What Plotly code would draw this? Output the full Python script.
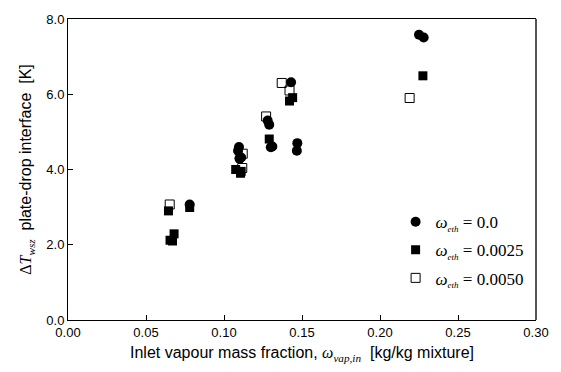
import plotly.graph_objects as go

# omega_eth = 0.0 (filled circles)
x_c0 = [0.225, 0.228, 0.143, 0.128, 0.129, 0.131, 0.147, 0.1467, 0.1096, 0.109, 0.110, 0.110, 0.111, 0.130, 0.078]
y_c0 = [7.58, 7.51, 6.32, 5.30, 5.19, 4.61, 4.70, 4.50, 4.60, 4.50, 4.29, 4.30, 4.32, 4.59, 3.07]

# omega_eth = 0.0025 (filled squares)
x_c1 = [0.2275, 0.144, 0.142, 0.129, 0.1075, 0.1106, 0.111, 0.0644, 0.078, 0.068, 0.0654, 0.067]
y_c1 = [6.49, 5.91, 5.82, 4.81, 4.00, 3.90, 3.95, 2.90, 2.99, 2.29, 2.12, 2.10]

# omega_eth = 0.0050 (open squares)
x_c2 = [0.219, 0.137, 0.142, 0.127, 0.112, 0.1117, 0.0652]
y_c2 = [5.90, 6.30, 6.10, 5.41, 4.42, 4.04, 3.07]

x_ticks = [0.0, 0.05, 0.10, 0.15, 0.20, 0.25, 0.30]
y_ticks = [0.0, 2.0, 4.0, 6.0, 8.0]

SERIF = "Liberation Serif, Times New Roman, serif"
SANS = "Liberation Sans, Arial, sans-serif"

def lab(v):
    return ("<span style='font-family:Liberation Serif'><i>ω</i><sub><i style='font-size:9px'>eth</i></sub> = "
            + v + "</span>")

fig = go.Figure()
fig.add_trace(go.Scatter(x=x_c0, y=y_c0, mode="markers", name=lab("0.0"), legendgroup="a",
                         marker=dict(symbol="circle", size=10, color="black")))
fig.add_trace(go.Scatter(x=x_c1, y=y_c1, mode="markers", name=lab("0.0025"), legendgroup="b",
                         marker=dict(symbol="square", size=9, color="black")))
fig.add_trace(go.Scatter(x=x_c2, y=y_c2, mode="markers", name=lab("0.0050"), legendgroup="c",
                         marker=dict(symbol="square-open", size=9, color="black",
                                     line=dict(width=1))))

fig.update_layout(
    width=561, height=372,
    margin=dict(l=68, r=14, t=12, b=52),
    paper_bgcolor="white", plot_bgcolor="white",
    font=dict(family=SANS, size=13, color="black"),
    showlegend=True,
    legend=dict(x=0.70, y=0.385, xanchor="left", yanchor="top",
                font=dict(family=SERIF, size=17, color="black"),
                bgcolor="rgba(0,0,0,0)", tracegroupgap=3, traceorder="grouped"),
    xaxis=dict(range=[0, 0.30], tickvals=x_ticks, tickformat=".2f",
               ticks="inside", ticklen=5, tickcolor="black",
               showline=True, linecolor="black", linewidth=1, mirror=True,
               showgrid=False, zeroline=False,
               tickfont=dict(family=SANS, size=13),
               title=dict(text="Inlet vapour mass fraction, <span style='font-family:Liberation Serif'><i>ω</i><sub><i>vap,in</i></sub></span>  [kg/kg mixture]",
                          font=dict(family=SANS, size=16), standoff=8)),
    yaxis=dict(range=[0, 8], tickvals=y_ticks, tickformat=".1f",
               ticks="inside", ticklen=5, tickcolor="black",
               showline=True, linecolor="black", linewidth=1, mirror=False,
               showgrid=False, zeroline=False,
               tickfont=dict(family=SANS, size=13),
               title=dict(text="<span style='font-family:Liberation Serif'>Δ<i>T</i><sub><i>wsz</i></sub></span>  plate-drop interface  [K]",
                          font=dict(family=SANS, size=16), standoff=10)),
    shapes=[dict(type="line", xref="paper", yref="paper", x0=1, x1=1, y0=0, y1=1,
                 line=dict(color="#555555", width=2))],
)

fig.write_html("out.html")
